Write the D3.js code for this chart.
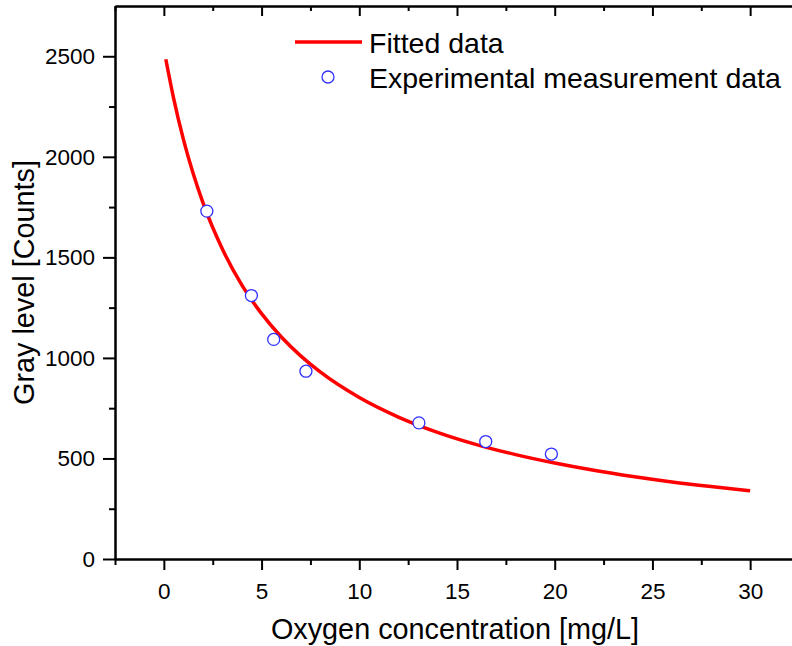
<!DOCTYPE html>
<html>
<head>
<meta charset="utf-8">
<script src="https://cdn.jsdelivr.net/npm/d3@7"></script>
<style>
  body { margin: 0; background: #fff; }
  svg { display: block; font-family: Arial, "Liberation Sans", sans-serif; }
</style>
</head>
<body>
<svg></svg>
<script>
// measured points
let expX = [2.2, 4.48, 5.62, 7.27, 13.05, 16.47, 19.83]
let expY = [1730, 1310, 1092, 934, 677, 584, 522]

// fitted curve
let fitX = [0.1, 0.5, 1, 1.5, 2, 3, 4, 5, 6, 7, 8, 10, 12, 14, 16, 18, 20, 22, 24, 26, 28, 30]
let fitY = [2485, 2291, 2087, 1917, 1772, 1540, 1361, 1220, 1105, 1010, 930, 803, 706, 630, 569, 519, 477, 441, 410, 383, 360, 339]

let xTicks = [0, 5, 10, 15, 20, 25, 30]
let yTicks = [0, 500, 1000, 1500, 2000, 2500]

let width = 792
let height = 646
let plotLeft = 115
let plotRight = 799
let plotTop = 6
let plotBottom = 559

let svg = d3.select('svg')
  .attr('width', width)
  .attr('height', height)

let xScale = d3.scaleLinear().domain([-2.5, 32.5]).range([plotLeft, plotRight])
let yScale = d3.scaleLinear().domain([0, 2750]).range([plotBottom, plotTop])

let xMinor = d3.range(-2.5, 32.6, 2.5).filter(v => xTicks.indexOf(v) < 0)
let yMinor = d3.range(250, 2750, 500)

let styleAxis = (g) => {
  g.select('.domain').attr('stroke', '#000').attr('stroke-width', 2)
  g.selectAll('.tick line').attr('stroke', '#000').attr('stroke-width', 2)
  g.selectAll('text').attr('fill', '#000').attr('font-size', '22.5px')
}

// bottom
svg.append('g')
  .attr('transform', 'translate(0,' + plotBottom + ')')
  .call(d3.axisBottom(xScale).tickValues(xMinor).tickSize(6).tickFormat('').tickSizeOuter(0))
  .call(styleAxis)
svg.append('g')
  .attr('transform', 'translate(0,' + plotBottom + ')')
  .call(d3.axisBottom(xScale).tickValues(xTicks).tickSize(11).tickPadding(13).tickFormat(d3.format('d')).tickSizeOuter(0))
  .call(styleAxis)

// top, inward ticks
svg.append('g')
  .attr('transform', 'translate(0,' + plotTop + ')')
  .call(d3.axisBottom(xScale).tickValues(xMinor).tickSize(5).tickFormat('').tickSizeOuter(0))
  .call(styleAxis)
svg.append('g')
  .attr('transform', 'translate(0,' + plotTop + ')')
  .call(d3.axisBottom(xScale).tickValues(xTicks).tickSize(10).tickFormat('').tickSizeOuter(0))
  .call(styleAxis)

// left
svg.append('g')
  .attr('transform', 'translate(' + plotLeft + ',0)')
  .call(d3.axisLeft(yScale).tickValues(yMinor).tickSize(6).tickFormat('').tickSizeOuter(0))
  .call(styleAxis)
svg.append('g')
  .attr('transform', 'translate(' + plotLeft + ',0)')
  .call(d3.axisLeft(yScale).tickValues(yTicks).tickSize(12).tickPadding(8).tickFormat(d3.format('d')).tickSizeOuter(0))
  .call(styleAxis)

// right, inward ticks (mostly off the canvas)
svg.append('g')
  .attr('transform', 'translate(' + plotRight + ',0)')
  .call(d3.axisLeft(yScale).tickValues(yMinor).tickSize(-6).tickFormat('').tickSizeOuter(0))
  .call(styleAxis)
svg.append('g')
  .attr('transform', 'translate(' + plotRight + ',0)')
  .call(d3.axisLeft(yScale).tickValues(yTicks).tickSize(-12).tickFormat('').tickSizeOuter(0))
  .call(styleAxis)

// fitted line
let fitData = fitX.map((x, i) => [x, fitY[i]])
svg.append('path')
  .datum(fitData)
  .attr('fill', 'none')
  .attr('stroke', '#ff0000')
  .attr('stroke-width', 3.5)
  .attr('d', d3.line()
    .x(d => xScale(d[0]))
    .y(d => yScale(d[1]))
    .curve(d3.curveMonotoneX))

// measured circles
svg.selectAll('circle.exp')
  .data(expX)
  .enter()
  .append('circle')
  .attr('class', 'exp')
  .attr('cx', d => xScale(d))
  .attr('cy', (d, i) => yScale(expY[i]))
  .attr('r', 6)
  .attr('fill', '#fff')
  .attr('stroke', '#3030ff')
  .attr('stroke-width', 1.3)

// axis titles
svg.append('text')
  .attr('x', 455)
  .attr('y', 639)
  .attr('text-anchor', 'middle')
  .attr('font-size', '28.8px')
  .text('Oxygen concentration [mg/L]')

svg.append('text')
  .attr('transform', 'translate(34,' + ((plotTop + plotBottom) / 2) + ') rotate(-90)')
  .attr('text-anchor', 'middle')
  .attr('font-size', '28.8px')
  .text('Gray level [Counts]')

// legend
let legend = svg.append('g')
legend.append('line')
  .attr('x1', 295).attr('x2', 362)
  .attr('y1', 42).attr('y2', 42)
  .attr('stroke', '#ff0000')
  .attr('stroke-width', 3.5)
legend.append('text')
  .attr('x', 369).attr('y', 53)
  .attr('font-size', '28.5px')
  .text('Fitted data')
legend.append('circle')
  .attr('cx', 328).attr('cy', 77)
  .attr('r', 6)
  .attr('fill', '#fff')
  .attr('stroke', '#3030ff')
  .attr('stroke-width', 1.3)
legend.append('text')
  .attr('x', 369).attr('y', 88)
  .attr('font-size', '28.5px')
  .text('Experimental measurement data')
</script>
</body>
</html>
